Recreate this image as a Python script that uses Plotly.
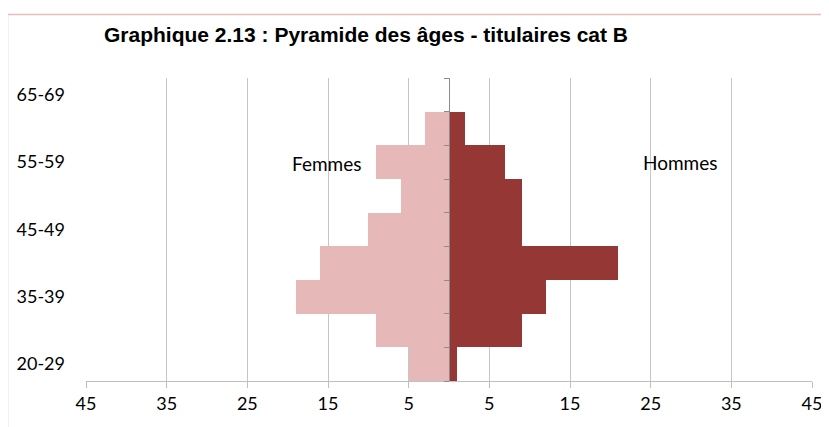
import numpy as np
import plotly.graph_objects as go

categories = ["20-29", "30-34", "35-39", "40-44", "45-49", "50-54", "55-59", "60-64", "65-69"]
femmes = [5, 9, 19, 16, 10, 6, 9, 3, 0]
hommes = [1, 9, 12, 21, 9, 9, 7, 2, 0]
x_ticks = [-45, -35, -25, -15, -5, 5, 15, 25, 35, 45]
x_ticktext = [str(abs(v)) for v in x_ticks]
shown_labels = ["20-29", "35-39", "45-49", "55-59", "65-69"]
title = "Graphique 2.13 : Pyramide des âges - titulaires cat B"

OFF = 8  # page body margin
W, H = 829 - OFF, 427 - OFF
L, T = 86 - OFF, 78 - OFF
R = W - (812 - OFF)
B = H - (381 - OFF)
pw, ph = W - L - R, H - T - B


def px(x):
    return (x - OFF - L) / pw


def py(y):
    return (H - B - (y - OFF)) / ph


ypos = list(range(len(categories)))
fig = go.Figure()
fig.add_trace(go.Bar(y=ypos, x=[-v for v in femmes], orientation="h", name="Femmes",
                     marker=dict(color="#E6B9B8", line=dict(width=0)), hoverinfo="skip"))
fig.add_trace(go.Bar(y=ypos, x=hommes, orientation="h", name="Hommes",
                     marker=dict(color="#953735", line=dict(width=0)), hoverinfo="skip"))

boundaries = list(np.arange(len(categories) + 1) - 0.5)

fig.update_layout(
    width=W, height=H,
    margin=dict(l=L, r=R, t=T, b=B, autoexpand=False),
    paper_bgcolor="white", plot_bgcolor="white",
    barmode="relative", bargap=0,
    showlegend=False,
    font=dict(family="Lato, Carlito, sans-serif", size=18, color="#000000"),
    xaxis=dict(range=[-45, 45], tickvals=x_ticks, ticktext=x_ticktext,
               showgrid=True, gridcolor="#C6C6C6", gridwidth=1,
               zeroline=False, showline=True, linecolor="#BFBFBF", linewidth=1,
               ticks="outside", ticklen=6, tickcolor="#BFBFBF", fixedrange=True),
    yaxis=dict(range=[-0.5, len(categories) - 0.5],
               tickvals=[categories.index(c) for c in shown_labels], ticktext=shown_labels,
               showgrid=False, zeroline=False, showline=False, ticks="",
               ticklabelstandoff=20, fixedrange=True),
    yaxis2=dict(range=[-0.5, len(categories) - 0.5], overlaying="y", anchor="free",
                position=0.5, side="left", tickvals=boundaries, showticklabels=False,
                ticks="outside", ticklen=5, tickcolor="#8C8C8C",
                showline=True, linecolor="#8C8C8C", linewidth=1,
                showgrid=False, zeroline=False, fixedrange=True),
)
fig.add_trace(go.Scatter(x=[None], y=[None], yaxis="y2", showlegend=False))

# Title
fig.add_annotation(text="<b>" + title + "</b>", xref="paper", yref="paper",
                   x=px(102), y=py(34), xanchor="left", yanchor="middle",
                   showarrow=False, font=dict(family="Liberation Sans, Arial", size=21, color="#000000"))
# Series labels
fig.add_annotation(text="Femmes", xref="paper", yref="paper", xanchor="center", yanchor="middle",
                   x=px(326), y=py(163), showarrow=False, font=dict(size=19))
fig.add_annotation(text="Hommes", xref="paper", yref="paper", xanchor="center", yanchor="middle",
                   x=px(680), y=py(162), showarrow=False, font=dict(size=19))

# Chart area border (pink)
fig.add_shape(type="rect", xref="paper", yref="paper",
              x0=px(7.5), x1=px(850), y0=py(450), y1=py(14.5),
              line=dict(color="#E8BDBD", width=1.5), fillcolor="rgba(0,0,0,0)", layer="below")

fig.write_html("out.html")
